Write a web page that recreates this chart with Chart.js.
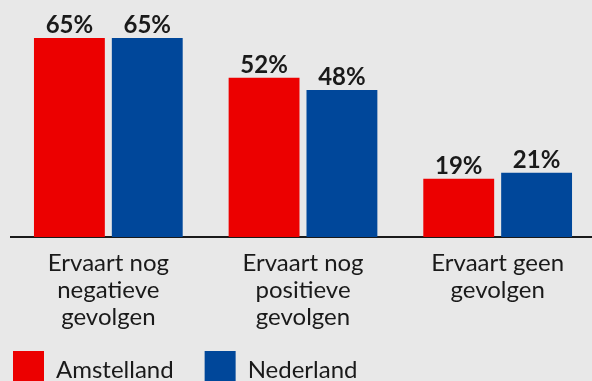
<!DOCTYPE html>
<html>
<head>
<meta charset="utf-8">
<script src="https://cdn.jsdelivr.net/npm/chart.js@4"></script>
<style>
  html, body { margin: 0; padding: 0; background: #e8e8e8; overflow: hidden; }
  #wrap { position: relative; left: -18px; top: 0; width: 613px; height: 399px; }
</style>
</head>
<body>
<div id="wrap"><canvas id="chart" width="613" height="399"></canvas></div>
<script>
// categorieën en percentages
const categories = [
  ['Ervaart nog', 'negatieve', 'gevolgen'],
  ['Ervaart nog', 'positieve', 'gevolgen'],
  ['Ervaart geen', 'gevolgen']
];
const amstelland = [65, 52, 19];
const nederland = [65, 48, 21];

const FONT = 'Lato, "DejaVu Sans", sans-serif';
const INK = '#1a1a1a';

// percentage boven elke staaf
const valueLabels = {
  id: 'valueLabels',
  afterDatasetsDraw(chart) {
    const ctx = chart.ctx;
    ctx.save();
    ctx.font = 'bold 24px ' + FONT;
    ctx.fillStyle = INK;
    ctx.textAlign = 'center';
    ctx.textBaseline = 'alphabetic';
    chart.data.datasets.forEach((ds, i) => {
      chart.getDatasetMeta(i).data.forEach((bar, j) => {
        ctx.fillText(ds.data[j] + '%', bar.x, bar.y - 5);
      });
    });
    ctx.restore();
  }
};

// labels van de x-as mogen tot onderaan doorlopen (niet afknippen)
const labelRoom = {
  id: 'labelRoom',
  afterLayout(chart) {
    chart.scales.x.bottom = chart.height;
  }
};

new Chart(document.getElementById('chart'), {
  type: 'bar',
  data: {
    labels: categories,
    datasets: [
      { label: 'Amstelland', data: amstelland, backgroundColor: '#ec0000', borderWidth: 0 },
      { label: 'Nederland', data: nederland, backgroundColor: '#00479a', borderWidth: 0 }
    ]
  },
  options: {
    responsive: false,
    animation: false,
    layout: { padding: 0 },
    datasets: { bar: { categoryPercentage: 0.8, barPercentage: 0.91 } },
    plugins: {
      legend: {
        position: 'bottom',
        align: 'start',
        labels: {
          boxWidth: 31,
          boxHeight: 38,
          padding: 31,
          color: INK,
          font: { family: FONT, size: 24 }
        }
      },
      tooltip: { enabled: false }
    },
    scales: {
      x: {
        grid: { display: false },
        border: { display: true, color: '#1a1a1a', width: 2 },
        ticks: {
          color: INK,
          padding: 5,
          maxRotation: 0,
          font: { family: FONT, size: 24, lineHeight: 1.125 }
        },
        afterFit: (scale) => { scale.height = 83; }
      },
      y: {
        min: 0,
        max: 77.4,
        grid: { display: false },
        border: { display: false },
        ticks: { display: false },
        afterFit: (scale) => { scale.width = 29; }
      }
    }
  },
  plugins: [valueLabels, labelRoom]
});
</script>
</body>
</html>
